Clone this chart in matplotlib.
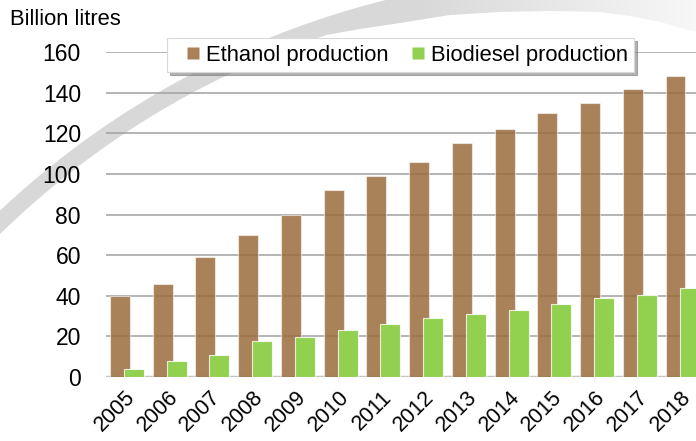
import numpy as np
import matplotlib
matplotlib.use('Agg')
import matplotlib.pyplot as plt
import matplotlib.transforms as mtransforms
from matplotlib.patches import Polygon
from matplotlib.lines import Line2D
from matplotlib.font_manager import FontProperties

years = ['2005', '2006', '2007', '2008', '2009', '2010', '2011',
         '2012', '2013', '2014', '2015', '2016', '2017', '2018']
ethanol = [40, 46, 59, 70, 80, 92, 99, 106, 115, 122, 130, 135, 142, 148]
biodiesel = [4, 8, 11, 17.5, 19.5, 23, 26, 29, 31, 33, 36, 39, 40.5, 44]
series_labels = ['Ethanol production', 'Biodiesel production']
y_label = 'Billion litres'

BROWN_SOLID = '#a98058'
BROWN = (0x9b / 255, 0x6c / 255, 0x3d / 255, 0.85)
GREEN = '#92d050'

plt.rcParams['font.family'] = ['Liberation Sans', 'DejaVu Sans']

W, H = 696, 441
fig = plt.figure(figsize=(W / 100, H / 100), dpi=100)

# ---- background swoosh (pixel coordinates) ----
bg = fig.add_axes([0, 0, 1, 1], zorder=0)
bg.set_xlim(0, W)
bg.set_ylim(H, 0)
bg.axis('off')
cx, cy = 596.5, 844.6
r_out, r_in = 870.5, 853.5


def arc(r, y0, y1, n=200):
    ys = np.linspace(y0, y1, n)
    xs = cx - np.sqrt(r ** 2 - (ys - cy) ** 2)
    return list(zip(xs, ys))


pts = arc(r_out, 270, -5)
pts += [(720, -5), (720, 40)]
lower = [(696, 32), (660, 22), (630, 16), (600, 12), (550, 11), (500, 12),
         (450, 15), (400, 23), (360, 29)]
pts += lower
pts += arc(r_in, 35, 270)
poly = Polygon(pts, closed=True, facecolor='none', edgecolor='none',
               transform=bg.transData)
bg.add_patch(poly)
xs = np.arange(W)
v = np.where(xs < 420, 0.85, 0.85 + (xs - 420) / (W - 420) * 0.12)
grad = np.dstack([v, v, v])
grad = np.repeat(grad, 2, axis=0)
im = bg.imshow(grad, extent=[0, W, H, 0], aspect='auto', interpolation='bilinear')
im.set_clip_path(poly)

# ---- main axes ----
ax = fig.add_axes([106 / W, 64 / H, (W - 106) / W, 325 / H], zorder=1)
ax.patch.set_alpha(0)
x = np.arange(len(years))
w = 0.467
off = 0.164
ax.bar(x - off, ethanol, w, facecolor=BROWN, edgecolor=(1, 1, 1, 0.55),
       linewidth=0.8, zorder=2)
ax.bar(x + off, biodiesel, w, facecolor=GREEN, edgecolor=(1, 1, 1, 0.8),
       linewidth=0.8, zorder=3)

ax.set_ylim(0, 160)
ax.set_xlim(-0.491, 13.316)
ax.set_yticks(range(0, 161, 20))
ax.grid(axis='y', color='#a0a0a0', linewidth=1.1, zorder=0.5)
ax.set_axisbelow(True)
for s in ax.spines.values():
    s.set_visible(False)
ax.axhline(0, color='#c4c4c4', linewidth=2.5, zorder=1.5)
ax.tick_params(axis='y', length=0, pad=18, labelsize=16.5)
ax.tick_params(axis='x', length=0, pad=14, labelsize=15.5)
ax.set_xticks(x, years, rotation=45, ha='right', va='center',
              rotation_mode='anchor')
shift = mtransforms.ScaledTranslation(5 / 100, 2 / 100, fig.dpi_scale_trans)
for lab in ax.get_xticklabels():
    lab.set_transform(lab.get_transform() + shift)

handles = [Line2D([], [], marker='s', ls='none', markersize=9,
                  markerfacecolor=BROWN_SOLID, markeredgecolor='none'),
           Line2D([], [], marker='s', ls='none', markersize=9,
                  markerfacecolor=GREEN, markeredgecolor='none')]
leg = ax.legend(handles, series_labels, loc='upper left',
                bbox_to_anchor=(167 / W, 1 - 38 / H),
                bbox_transform=fig.transFigure, ncol=2, frameon=True,
                fancybox=False, shadow={'color': '#7f7f7f', 'alpha': 0.6},
                borderpad=0.3, handlelength=1.8, handletextpad=-0.3,
                columnspacing=0.4, borderaxespad=0,
                prop=FontProperties(family=['Liberation Sans Narrow', 'Liberation Sans'],
                                    size=15.8))
leg.get_frame().set_edgecolor('#d9d9d9')
leg.get_frame().set_linewidth(0.8)
leg.set_zorder(5)

fig.text(10 / W, 1 - 25 / H, y_label, fontsize=15.8, va='baseline', ha='left')

fig.savefig('out.png', dpi=100)
